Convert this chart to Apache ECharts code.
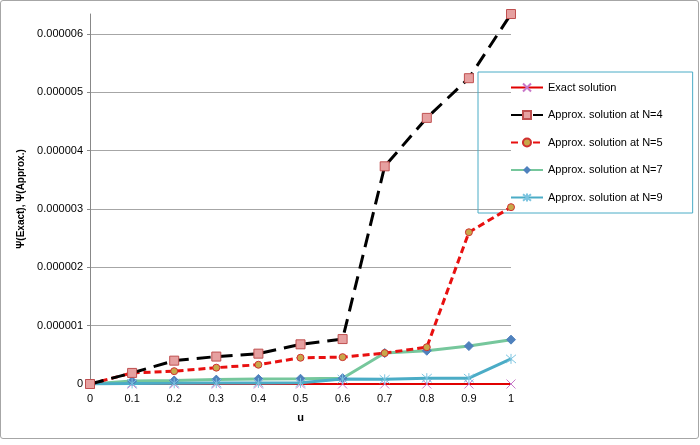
<!DOCTYPE html>
<html>
<head>
<meta charset="utf-8">
<script src="https://cdn.jsdelivr.net/npm/echarts@6/dist/echarts.min.js"></script>
<style>
  html, body { margin: 0; padding: 0; background: #fff; }
  #chart { width: 697px; height: 437px; border: 1px solid #a6a6a6; border-radius: 3px; }
</style>
</head>
<body>
<div id="chart"></div>
<script>
var uValues = ['0', '0.1', '0.2', '0.3', '0.4', '0.5', '0.6', '0.7', '0.8', '0.9', '1'];
var exactSol = [0, 0, 0, 0, 0, 0, 0, 0, 0, 0, 0];
var approxN4 = [0, 0.19e-6, 0.40e-6, 0.47e-6, 0.52e-6, 0.68e-6, 0.77e-6, 3.73e-6, 4.56e-6, 5.24e-6, 6.34e-6];
var approxN5 = [0, 0.19e-6, 0.22e-6, 0.28e-6, 0.33e-6, 0.45e-6, 0.46e-6, 0.53e-6, 0.63e-6, 2.60e-6, 3.03e-6];
var approxN7 = [0, 0.05e-6, 0.06e-6, 0.075e-6, 0.087e-6, 0.09e-6, 0.10e-6, 0.53e-6, 0.57e-6, 0.65e-6, 0.76e-6];
var approxN9 = [0, 0.01e-6, 0.012e-6, 0.015e-6, 0.018e-6, 0.02e-6, 0.085e-6, 0.08e-6, 0.10e-6, 0.10e-6, 0.43e-6];

var crossPath = 'path://M0,0L10,10M10,0L0,10';
var starPath = 'path://M0,0L10,10M10,0L0,10M5,-1L5,11';

var myChart = echarts.init(document.getElementById('chart'));
var option = {
    animation: false,
    textStyle: { fontFamily: 'Liberation Sans, Arial, sans-serif' },
    grid: { left: 89, right: 187, top: 13, bottom: 54, containLabel: false },
    legend: {
        orient: 'vertical',
        left: 477,
        top: 71,
        padding: [10, 30, 10, 32],
        itemWidth: 32,
        itemHeight: 10,
        itemGap: 16.5,
        borderColor: '#4bacc6',
        borderWidth: 1,
        textStyle: { fontSize: 11, color: '#000' },
        data: ['Exact solution', 'Approx. solution at N=4', 'Approx. solution at N=5',
               'Approx. solution at N=7', 'Approx. solution at N=9']
    },
    xAxis: {
        type: 'category',
        boundaryGap: false,
        data: uValues,
        name: 'u',
        nameLocation: 'middle',
        nameGap: 28,
        nameTextStyle: { fontWeight: 'bold', fontSize: 11, color: '#000' },
        axisLine: { lineStyle: { color: '#888' } },
        axisTick: { show: false },
        axisLabel: { fontSize: 11, color: '#000', margin: 9 }
    },
    yAxis: {
        type: 'value',
        min: 0,
        max: 6.34e-6,
        interval: 1e-6,
        name: 'Ψ(Exact), Ψ(Approx.)',
        nameLocation: 'middle',
        nameGap: 62,
        nameTextStyle: { fontWeight: 'bold', fontSize: 10, color: '#000' },
        axisLine: { show: true, lineStyle: { color: '#888' } },
        axisTick: { show: true, length: 3, lineStyle: { color: '#888' } },
        axisLabel: {
            fontSize: 11, color: '#000', margin: 7, showMaxLabel: false,
            formatter: function (v) { return v === 0 ? '0' : v.toFixed(6); }
        },
        splitLine: { show: true, showMaxLine: false, lineStyle: { color: '#a6a6a6' } }
    },
    series: [
        {
            name: 'Exact solution', type: 'line', data: exactSol, z: 2,
            symbol: crossPath, symbolSize: 9,
            lineStyle: { color: '#e00000', width: 2 },
            itemStyle: { color: 'rgba(0,0,0,0)', borderColor: '#c878c8', borderWidth: 1 }
        },
        {
            name: 'Approx. solution at N=4', type: 'line', data: approxN4, z: 5,
            symbol: 'rect', symbolSize: 9,
            lineStyle: { color: '#000', width: 3, type: [14, 8] },
            itemStyle: { color: '#e6a0a0', borderColor: '#c05050', borderWidth: 1 }
        },
        {
            name: 'Approx. solution at N=5', type: 'line', data: approxN5, z: 4,
            symbol: 'circle', symbolSize: 7,
            lineStyle: { color: '#e81010', width: 3, type: [7, 4] },
            itemStyle: { color: '#c8a84a', borderColor: '#d03030', borderWidth: 1 }
        },
        {
            name: 'Approx. solution at N=7', type: 'line', data: approxN7, z: 3,
            symbol: 'diamond', symbolSize: 9,
            lineStyle: { color: '#76c79c', width: 3 },
            itemStyle: { color: '#4f81bd', borderColor: '#4f81bd' }
        },
        {
            name: 'Approx. solution at N=9', type: 'line', data: approxN9, z: 3,
            symbol: starPath, symbolSize: 10,
            lineStyle: { color: '#4bacc6', width: 3 },
            itemStyle: { color: 'rgba(0,0,0,0)', borderColor: '#7cc4e0', borderWidth: 1 }
        }
    ]
};
myChart.setOption(option, true);
</script>
</body>
</html>
